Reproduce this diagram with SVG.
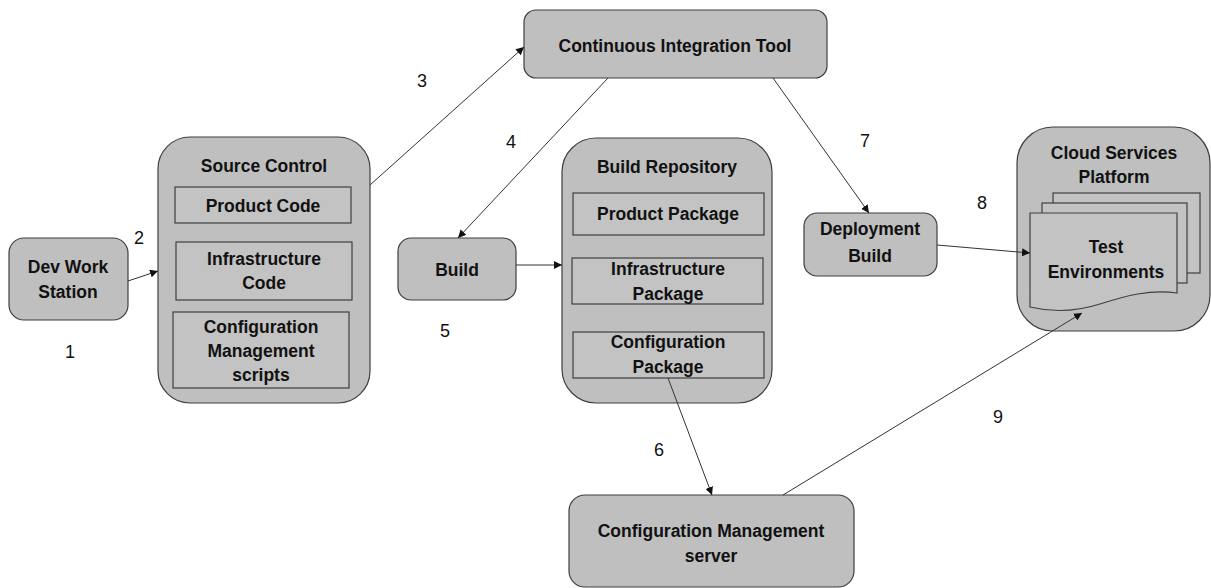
<svg xmlns="http://www.w3.org/2000/svg" width="1211" height="588" viewBox="0 0 1211 588">
<style>
.box{fill:#bfbfbf;stroke:#3f3f3f;stroke-width:1.2}
.inner{fill:#c3c3c3;stroke:#3f3f3f;stroke-width:1.2}
.t{font-family:"Liberation Sans",Arial,sans-serif;font-weight:bold;font-size:17.5px;fill:#111;text-anchor:middle}
.n{font-family:"Liberation Sans",Arial,sans-serif;font-size:18px;fill:#111;text-anchor:middle}
.c{stroke:#333;stroke-width:1;fill:none;marker-end:url(#ah)}
</style>
<defs>
<marker id="ah" viewBox="0 0 10 10" refX="10" refY="5" markerWidth="8" markerHeight="8" markerUnits="userSpaceOnUse" orient="auto">
<path d="M0,0 L10,5 L0,10 Z" fill="#111"/>
</marker>
</defs>
<rect width="1211" height="588" fill="#fff"/>

<g id="dev-work-station">
<rect class="box" x="9" y="238" width="119" height="82" rx="15"/>
<text class="t" x="68" y="273">Dev Work</text>
<text class="t" x="68" y="298">Station</text>
</g>

<g id="source-control">
<rect class="box" x="158" y="137" width="212" height="266" rx="32"/>
<text class="t" x="264" y="172">Source Control</text>
<rect class="inner" x="175" y="187" width="176" height="36"/>
<text class="t" x="263" y="212">Product Code</text>
<rect class="inner" x="176" y="242" width="176" height="58"/>
<text class="t" x="264" y="265">Infrastructure</text>
<text class="t" x="264" y="289">Code</text>
<rect class="inner" x="173" y="312" width="176" height="76"/>
<text class="t" x="261" y="333">Configuration</text>
<text class="t" x="261" y="357">Management</text>
<text class="t" x="261" y="381">scripts</text>
</g>

<g id="ci-tool">
<rect class="box" x="524" y="10" width="303" height="68" rx="12"/>
<text class="t" x="675" y="52">Continuous Integration Tool</text>
</g>

<g id="build">
<rect class="box" x="398" y="238" width="118" height="62" rx="13"/>
<text class="t" x="457" y="276">Build</text>
</g>

<g id="build-repository">
<rect class="box" x="562" y="138" width="210" height="265" rx="34"/>
<text class="t" x="667" y="173">Build Repository</text>
<rect class="inner" x="573" y="193" width="191" height="42"/>
<text class="t" x="668" y="220">Product Package</text>
<rect class="inner" x="572" y="258" width="191" height="46"/>
<text class="t" x="668" y="275">Infrastructure</text>
<text class="t" x="668" y="300">Package</text>
<rect class="inner" x="573" y="332" width="191" height="46"/>
<text class="t" x="668" y="348">Configuration</text>
<text class="t" x="668" y="373">Package</text>
</g>

<g id="deployment-build">
<rect class="box" x="804" y="213" width="133" height="63" rx="13"/>
<text class="t" x="870" y="235">Deployment</text>
<text class="t" x="870" y="262">Build</text>
</g>

<g id="cloud-services-platform">
<rect class="box" x="1017" y="127" width="193" height="204" rx="36"/>
<text class="t" x="1114" y="159">Cloud Services</text>
<text class="t" x="1114" y="183">Platform</text>
<rect class="inner" x="1053" y="193" width="147" height="80"/>
<rect class="inner" x="1042" y="203" width="145" height="80"/>
<path class="inner" d="M1030,213 H1177 V293 C1150,289 1125,296 1100,304 C1078,311 1055,313 1030,307 Z"/>
<text class="t" x="1106" y="253">Test</text>
<text class="t" x="1106" y="278">Environments</text>
</g>

<g id="cm-server">
<rect class="box" x="569" y="495" width="285" height="92" rx="16"/>
<text class="t" x="711" y="537">Configuration Management</text>
<text class="t" x="711" y="562">server</text>
</g>

<g id="connectors">
<line class="c" x1="128" y1="281" x2="158" y2="271"/>
<line class="c" x1="370" y1="185" x2="524" y2="47"/>
<line class="c" x1="608" y1="78" x2="458" y2="238"/>
<line class="c" x1="516" y1="265" x2="562" y2="265"/>
<line class="c" x1="773" y1="78" x2="869" y2="213"/>
<line class="c" x1="937" y1="245" x2="1030" y2="253"/>
<line class="c" x1="668" y1="378" x2="712" y2="495"/>
<line class="c" x1="783" y1="495" x2="1082" y2="313"/>
</g>

<g id="labels">
<text class="n" x="70" y="358">1</text>
<text class="n" x="139" y="244">2</text>
<text class="n" x="422" y="87">3</text>
<text class="n" x="511" y="148">4</text>
<text class="n" x="445" y="337">5</text>
<text class="n" x="659" y="456">6</text>
<text class="n" x="865" y="147">7</text>
<text class="n" x="982" y="209">8</text>
<text class="n" x="998" y="423">9</text>
</g>
</svg>
